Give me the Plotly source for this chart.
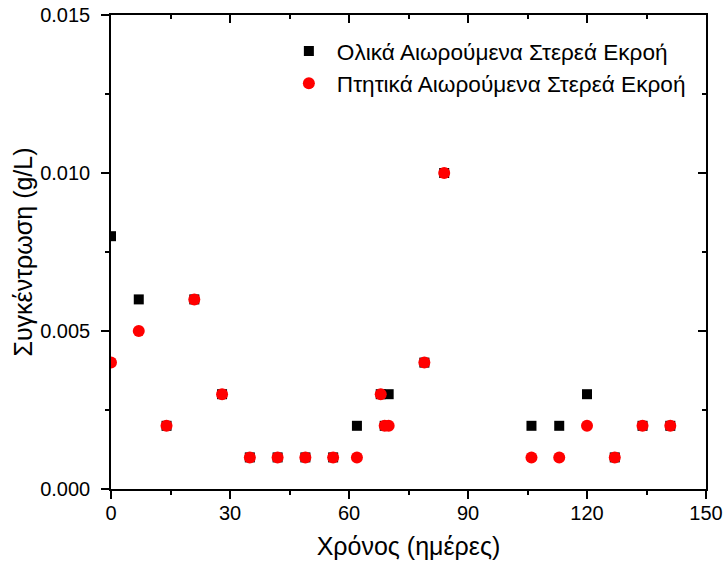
import plotly.graph_objects as go

# Sampling days and effluent suspended-solids concentrations (g/L)
days = [0, 7, 14, 21, 28, 35, 42, 49, 56, 62, 68, 69, 70, 79, 84, 106, 113, 120, 127, 134, 141]
total_ss = [0.008, 0.006, 0.002, 0.006, 0.003, 0.001, 0.001, 0.001, 0.001, 0.002, 0.003,
            0.002, 0.003, 0.004, 0.010, 0.002, 0.002, 0.003, 0.001, 0.002, 0.002]
volatile_ss = [0.004, 0.005, 0.002, 0.006, 0.003, 0.001, 0.001, 0.001, 0.001, 0.001, 0.003,
               0.002, 0.002, 0.004, 0.010, 0.001, 0.001, 0.002, 0.001, 0.002, 0.002]

x_ticks = [0, 30, 60, 90, 120, 150]
y_ticks = [0.000, 0.005, 0.010, 0.015]

name_total = "Ολικά Αιωρούμενα Στερεά Εκροή"
name_volatile = "Πτητικά Αιωρούμενα Στερεά Εκροή"
x_title = "Χρόνος (ημέρες)"
y_title = "Συγκέντρωση (g/L)"

FONT = "Arial, Liberation Sans, sans-serif"
x_range = [0, 150]
y_range = [0, 0.015]

fig = go.Figure()
fig.add_trace(go.Scatter(
    x=days, y=total_ss, mode="markers", name=name_total,
    marker=dict(symbol="square", size=10, color="black"),
))
fig.add_trace(go.Scatter(
    x=days, y=volatile_ss, mode="markers", name=name_volatile,
    marker=dict(symbol="circle", size=12, color="#ff0000"),
))
# empty trace so the mirrored top/right axes get drawn
fig.add_trace(go.Scatter(x=[], y=[], xaxis="x2", yaxis="y2", showlegend=False, hoverinfo="skip"))

axis_common = dict(
    showgrid=False, zeroline=False, showline=True, linecolor="black", linewidth=1.5,
    ticklen=8, tickwidth=1.5, tickcolor="black", automargin=False,
    tickfont=dict(family=FONT, size=20, color="black"),
)

fig.update_layout(
    width=725, height=567,
    margin=dict(l=111, r=19, t=15, b=78),
    paper_bgcolor="white", plot_bgcolor="white",
    font=dict(family=FONT, color="black"),
    xaxis=dict(
        **axis_common, range=x_range, tickmode="array", tickvals=x_ticks,
        ticks="outside", ticklabelstandoff=-3,
        minor=dict(dtick=15, ticks="outside", ticklen=4, tickwidth=1.5, tickcolor="black"),
        title=dict(text=x_title, font=dict(family=FONT, size=25, color="black"), standoff=15),
    ),
    yaxis=dict(
        **axis_common, range=y_range, tickmode="array", tickvals=y_ticks,
        tickformat=".3f", ticks="outside", ticklabelstandoff=7,
        minor=dict(dtick=0.0025, ticks="outside", ticklen=4, tickwidth=1.5, tickcolor="black"),
        title=dict(text=y_title, font=dict(family=FONT, size=25, color="black"), standoff=0),
    ),
    xaxis2=dict(
        **axis_common, range=x_range, overlaying="x", side="top", anchor="y",
        tickmode="array", tickvals=x_ticks, ticks="inside", showticklabels=False,
        minor=dict(dtick=15, ticks="inside", ticklen=4, tickwidth=1.5, tickcolor="black"),
    ),
    yaxis2=dict(
        **axis_common, range=y_range, overlaying="y", side="right", anchor="x",
        tickmode="array", tickvals=y_ticks, ticks="inside", showticklabels=False,
        minor=dict(dtick=0.0025, ticks="inside", ticklen=4, tickwidth=1.5, tickcolor="black"),
    ),
    legend=dict(
        x=0.2855, y=0.969, xanchor="left", yanchor="top",
        bgcolor="rgba(0,0,0,0)", borderwidth=0,
        font=dict(family=FONT, size=22.6, color="black"),
        tracegroupgap=0, itemwidth=46,
    ),
    showlegend=True,
)

fig.write_html("out.html")
